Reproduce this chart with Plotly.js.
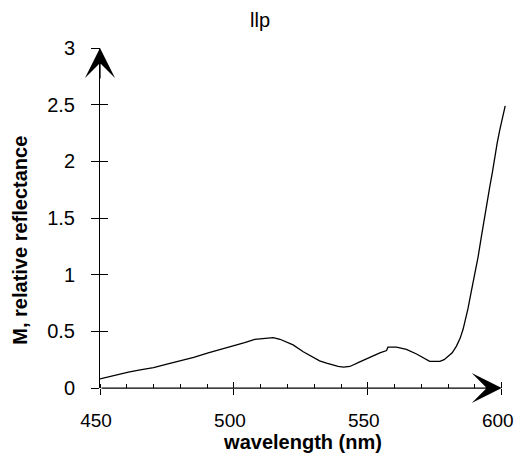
<!DOCTYPE html>
<html>
<head>
<meta charset="utf-8">
<script src="https://cdn.plot.ly/plotly-3.0.1.min.js"></script>
<style>html,body{margin:0;padding:0;background:#fff;}#chart{width:515px;height:468px;}</style>
</head>
<body>
<div id="chart"></div>
<script>
const chartTitle = 'llp';
const xTitle = 'wavelength (nm)';
const yTitle = 'M, relative reflectance';

const wavelength = [450, 455, 460.6, 465, 470, 475, 480.5, 485, 490.4, 495, 499.7, 504, 507.8, 511.6, 513.5, 514.7, 517.2, 520, 522.1, 525.9, 529.6, 532, 534.6, 538.9, 541, 543.3, 547, 550.7, 554.5, 557, 557.5, 560.7, 564.4, 568.2, 571, 573.1, 576.9, 578.5, 580, 581.5, 583.1, 584.5, 585.6, 586.5, 587.4, 588.7, 589.9, 591.2, 592.3, 593.7, 594.6, 595.5, 596.5, 597.4, 598.3, 599.3, 600.3, 601.3];
const reflectance = [0.08, 0.11, 0.14, 0.16, 0.18, 0.21, 0.24, 0.27, 0.31, 0.34, 0.37, 0.40, 0.43, 0.44, 0.44, 0.445, 0.43, 0.40, 0.38, 0.32, 0.27, 0.24, 0.22, 0.19, 0.185, 0.19, 0.23, 0.27, 0.31, 0.33, 0.36, 0.36, 0.34, 0.30, 0.26, 0.235, 0.235, 0.25, 0.28, 0.31, 0.37, 0.44, 0.52, 0.61, 0.70, 0.86, 1.00, 1.16, 1.32, 1.53, 1.65, 1.77, 1.90, 2.04, 2.16, 2.28, 2.39, 2.49];

const xAxisStart = 450;
const xAxisEnd = 600;
const xRange = [450, 601.6];
const yRange = [0, 3];

const font = 'Liberation Sans, Arial, Helvetica, sans-serif';

const traces = [
  {x: wavelength, y: reflectance, type: 'scatter', mode: 'lines',
   line: {color: '#000', width: 1.3}, hoverinfo: 'skip', showlegend: false},
  {x: wavelength, y: reflectance, xaxis: 'x2', yaxis: 'y2', type: 'scatter', mode: 'lines',
   line: {color: 'rgba(0,0,0,0)', width: 0}, hoverinfo: 'skip', showlegend: false}
];

const layout = {
  width: 515, height: 468,
  margin: {l: 100, r: 9, t: 48, b: 80},
  paper_bgcolor: '#fff', plot_bgcolor: '#fff',
  font: {family: font, color: '#000', size: 20},
  showlegend: false,
  title: {text: chartTitle, x: 0.505, xref: 'container', y: 0.957, yref: 'container', yanchor: 'middle',
          font: {family: font, size: 20, color: '#000'}},
  xaxis: {
    range: xRange, tick0: 450, dtick: 50, ticks: 'outside', ticklen: 6, tickwidth: 1, tickcolor: '#000',
    showline: false, showgrid: false, zeroline: false,
    tickfont: {family: font, size: 19, color: '#000'}, ticklabelstandoff: 9, ticklabelshift: -4,
    ticklabeloverflow: 'allow',
    minor: {ticks: 'inside', dtick: 10, tick0: 450, ticklen: 4, tickwidth: 1, tickcolor: '#000', showgrid: false},
    title: {text: '<b>' + xTitle + '</b>', standoff: 5, font: {family: font, size: 20, color: '#000'}},
    fixedrange: true
  },
  yaxis: {
    range: yRange, tick0: 0, dtick: 0.5, ticks: 'outside', ticklen: 8, tickwidth: 1, tickcolor: '#000',
    showline: true, linecolor: '#000', linewidth: 1, showgrid: false, zeroline: false,
    tickfont: {family: font, size: 20, color: '#000'}, ticklabelstandoff: 12,
    fixedrange: true
  },
  xaxis2: {
    range: xRange, overlaying: 'x', anchor: 'y2', side: 'bottom', tick0: 450, dtick: 50,
    ticks: 'inside', ticklen: 6, tickwidth: 1, tickcolor: '#000',
    showticklabels: false, showline: false, showgrid: false, zeroline: false, fixedrange: true
  },
  yaxis2: {
    range: yRange, overlaying: 'y', anchor: 'x2', side: 'left', tick0: 0, dtick: 0.5,
    ticks: 'inside', ticklen: 8, tickwidth: 1, tickcolor: '#000',
    showticklabels: false, showline: false, showgrid: false, zeroline: false, fixedrange: true
  },
  annotations: [
    {x: xAxisStart, y: yRange[1], xref: 'x', yref: 'y', text: '', showarrow: true,
     ax: 0, ay: 32, arrowhead: 3, arrowsize: 4, arrowwidth: 1.25, arrowcolor: '#000', standoff: 0},
    {x: xAxisEnd, y: yRange[0], xref: 'x', yref: 'y', text: '', showarrow: true,
     ax: xAxisStart, ay: yRange[0], axref: 'x', ayref: 'y',
     arrowhead: 3, arrowsize: 4, arrowwidth: 1.25, arrowcolor: '#000', standoff: 0},
    {text: '<b>' + yTitle + '</b>', xref: 'paper', yref: 'paper', x: -0.198, y: 0.435,
     xanchor: 'center', yanchor: 'middle', textangle: -90, showarrow: false,
     font: {family: font, size: 20, color: '#000'}}
  ]
};

Plotly.newPlot('chart', traces, layout, {displayModeBar: false, staticPlot: true});
</script>
</body>
</html>
